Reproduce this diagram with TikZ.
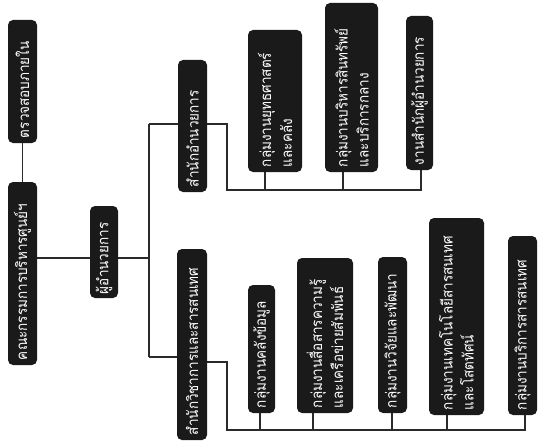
\documentclass[tikz,border=0pt]{standalone}
\usepackage{fontspec}
\newfontfamily\thaifont[Script=Thai,FakeStretch=0.9]{Loma}
\definecolor{boxfill}{HTML}{1A1A1A}
\definecolor{linecol}{HTML}{2A2A2A}
\tikzset{
  obox/.style n args={3}{draw=none, fill=boxfill, text=white, rounded corners=5pt,
    rotate=90, inner sep=0pt, align=left,
    minimum width=#1, minimum height=#2, text width=#3,
    font=\thaifont\fontsize{15}{21}\selectfont},
  conn/.style={draw=linecol, line width=1.1pt}
}
\begin{document}
\begin{tikzpicture}[x=1pt,y=-1pt]
\useasboundingbox (0,0) rectangle (538,444);
% left column
\node[obox={123pt}{29pt}{113pt}] (audit) at (22.5,81.5) {ตรวจสอบภายใน};
\node[obox={183pt}{29pt}{173pt}] (board) at (22.5,273.5) {คณะกรรมการบริหารศูนย์ฯ};
\node[obox={92pt}{28pt}{84pt}] (dir) at (104,252) {ผู้อำนวยการ};
% branches
\node[obox={132pt}{29pt}{122pt}] (up) at (192.5,126) {สำนักอำนวยการ};
\node[obox={191pt}{30pt}{181pt}] (low) at (192,344.5) {สำนักวิชาการและสารสนเทศ};
% upper children
\node[obox={142pt}{54pt}{132pt}] (c1) at (275,101) {กลุ่มงานยุทธศาสตร์\\และคลัง};
\node[obox={169pt}{53pt}{159pt}] (c2) at (351.5,87.5) {กลุ่มงานบริหารสินทรัพย์\\และบริการกลาง};
\node[obox={154pt}{27pt}{144pt}] (c3) at (419.5,93) {งานสำนักผู้อำนวยการ};
% lower children
\node[obox={128pt}{27pt}{118pt}] (d1) at (261.5,349) {กลุ่มงานคลังข้อมูล};
\node[obox={155pt}{56pt}{145pt}] (d2) at (325,335.5) {กลุ่มงานสื่อสารความรู้\\และเครือข่ายสัมพันธ์};
\node[obox={156pt}{29pt}{146pt}] (d3) at (392.5,335) {กลุ่มงานวิจัยและพัฒนา};
\node[obox={197pt}{55pt}{187pt}] (d4) at (456.5,316.5) {กลุ่มงานเทคโนโลยีสารสนเทศ\\และโสตทัศน์};
\node[obox={179pt}{29pt}{169pt}] (d5) at (522.5,325.5) {กลุ่มงานบริการสารสนเทศ};
% coordinates
\coordinate (j1) at (149,258);
\coordinate (sTop) at (149,124);
\coordinate (sBot) at (149,357);
\coordinate (uB) at (227,190);
\coordinate (uE) at (421,190);
\coordinate (lR) at (207,362);
\coordinate (lB) at (227,430);
\coordinate (lE) at (525,430);
\coordinate (u1) at (265,190);
\coordinate (u2) at (343,190);
\coordinate (l1) at (260,430);
\coordinate (l2) at (313,430);
\coordinate (l3) at (392,430);
\coordinate (l4) at (447,430);
% connectors
\draw[conn] (audit.west) -- (board.east);
\draw[conn] (board.south |- j1) -- (dir.north |- j1);
\draw[conn] (dir.south |- j1) -- (j1);
\draw[conn] (sTop) -- (sBot);
\draw[conn] (sTop) -- (up.north |- sTop);
\draw[conn] (sBot) -- (low.north |- sBot);
\draw[conn] (up.south |- sTop) -| (uB) -- (uE) -- (c3.west -| uE);
\draw[conn] (u1) -- (c1.west -| u1);
\draw[conn] (u2) -- (c2.west -| u2);
\draw[conn] (low.south |- lR) -| (lB) -- (lE) -- (d5.west -| lE);
\draw[conn] (l1) -- (d1.west -| l1);
\draw[conn] (l2) -- (d2.west -| l2);
\draw[conn] (l3) -- (d3.west -| l3);
\draw[conn] (l4) -- (d4.west -| l4);
\end{tikzpicture}
\end{document}
